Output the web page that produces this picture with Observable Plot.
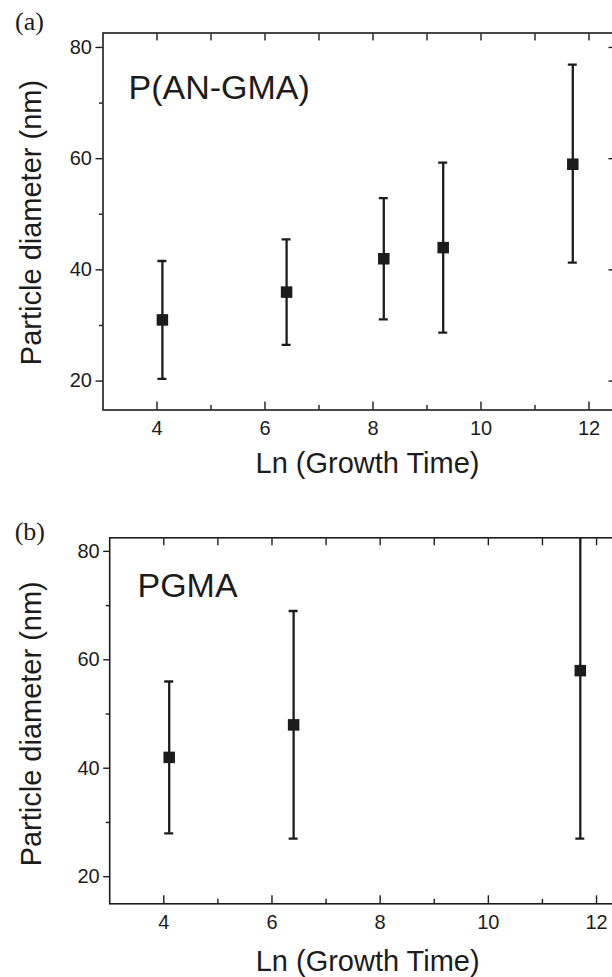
<!DOCTYPE html>
<html><head><meta charset="utf-8">
<script src="https://cdn.jsdelivr.net/npm/d3@7"></script>
<script src="https://cdn.jsdelivr.net/npm/@observablehq/plot@0.6"></script>
<style>
html,body{margin:0;padding:0;background:#fff;overflow:hidden;width:612px;height:977px;position:relative;}
#a,#b{position:absolute;left:0;}
#a{top:0}#b{top:487px}
</style></head><body><div id="a"></div><div id="b"></div>
<script>
// Panel (a) P(AN-GMA)
const xA=[4.1,6.4,8.2,9.3,11.7];
const yA=[31,36,42,44,59];
const loA=[20.4,26.5,31.1,28.7,41.3];
const hiA=[41.6,45.5,52.9,59.3,76.9];
// Panel (b) PGMA
const xB=[4.1,6.4,11.7];
const yB=[42,48,58];
const loB=[28,27,27];
const hiB=[56,69,89];
// ticks
const xMajor=[4,6,8,10,12];
const xMinor=[5,7,9,11];
const xTop=[4,5,6,7,8,9,10,11,12];
const yMajor=[20,40,60,80];
const yMinor=[30,50,70];
const xTitle="Ln (Growth Time)";
const yTitle="Particle diameter (nm)";

const ink="#1c1c1c";
const sans='"Liberation Sans", Arial, Helvetica, sans-serif';
const serif='"Liberation Serif", "Times New Roman", serif';

function makePanel(o){
  const data=o.x.map((x,i)=>({x, y:o.y[i], lo:o.lo[i], hi:o.hi[i]}));
  return Plot.plot({
    width:o.width, height:o.height,
    marginLeft:o.mL, marginRight:0, marginTop:o.mT, marginBottom:o.mB,
    style:{fontFamily:sans, color:ink, background:"#fff", maxWidth:"none", overflow:"visible"},
    x:{domain:[3,12.5]},
    y:{domain:o.yDom},
    marks:[
      Plot.frame({stroke:ink, strokeWidth:1.6}),
      Plot.axisX(xTop,{anchor:"top", tickSize:-7, text:null, label:null, strokeWidth:1.4}),
      Plot.axisX(xMajor,{anchor:"bottom", tickSize:-8, text:null, label:null, strokeWidth:1.4}),
      Plot.axisX(xMinor,{anchor:"bottom", tickSize:-4.5, text:null, label:null, strokeWidth:1.4}),
      Plot.axisX(xMajor,{anchor:"bottom", tickSize:0, tickPadding:o.xPad, fontSize:20, label:null}),
      Plot.axisY(yMajor,{anchor:"left", tickSize:o.yTick, tickPadding:o.yPad, fontSize:20, label:null, strokeWidth:1.4}),
      Plot.axisY(yMinor,{anchor:"left", tickSize:3.5, text:null, label:null, strokeWidth:1.4}),
      Plot.axisY(yMajor,{anchor:"right", tickSize:-8, text:null, label:null, strokeWidth:1.4}),
      Plot.axisY(yMinor,{anchor:"right", tickSize:-4, text:null, label:null, strokeWidth:1.4}),
      Plot.ruleX(data,{x:"x", y1:"lo", y2:"hi", stroke:ink, strokeWidth:2.3, clip:true}),
      Plot.ruleY(data,{y:"hi", x1:"x", x2:"x", insetLeft:-4.5, insetRight:-4.5, stroke:ink, strokeWidth:2.3, clip:true}),
      Plot.ruleY(data,{y:"lo", x1:"x", x2:"x", insetLeft:-4.5, insetRight:-4.5, stroke:ink, strokeWidth:2.3, clip:true}),
      Plot.dot(data,{x:"x", y:"y", symbol:"square", r:6.5, fill:ink, stroke:null}),
      Plot.text([o.ann],{frameAnchor:"top-left", textAnchor:"start", lineAnchor:"top", dx:o.annDx, dy:o.annDy, fontSize:34, fill:ink}),
      Plot.text([o.tag],{frameAnchor:"top-left", textAnchor:"start", lineAnchor:"bottom", dx:o.tagDx, dy:o.tagDy, fontSize:26, fontFamily:serif, fill:ink}),
      Plot.text([xTitle],{frameAnchor:"bottom", textAnchor:"middle", lineAnchor:"bottom", dx:o.xtDx, dy:o.xtDy, fontSize:29, fill:ink}),
      Plot.text([yTitle],{frameAnchor:"left", textAnchor:"middle", lineAnchor:"middle", rotate:-90, dx:o.ytDx, dy:o.ytDy, fontSize:29, fill:ink})
    ]
  });
}

document.getElementById("a").append(makePanel({
  x:xA, y:yA, lo:loA, hi:hiA, ann:"P(AN-GMA)", tag:"(a)",
  width:615.5, height:490, mL:102.5, mT:32.5, mB:80.5, yDom:[14.8,82.6],
  xPad:11, yTick:7, yPad:4,
  annDx:25.5, annDy:41.5, tagDx:-88, tagDy:-3,
  xtDx:8, xtDy:62.5, ytDx:-71.5, ytDy:1
}));
document.getElementById("b").append(makePanel({
  x:xB, y:yB, lo:loB, hi:hiB, ann:"PGMA", tag:"(b)",
  width:623.1, height:490, mL:109.2, mT:50.3, mB:73.7, yDom:[15,82.5],
  xPad:11, yTick:6, yPad:4,
  annDx:27.8, annDy:34.7, tagDx:-95, tagDy:2,
  xtDx:1, xtDy:67, ytDx:-78.2, ytDy:3
}));
</script>
</body></html>
